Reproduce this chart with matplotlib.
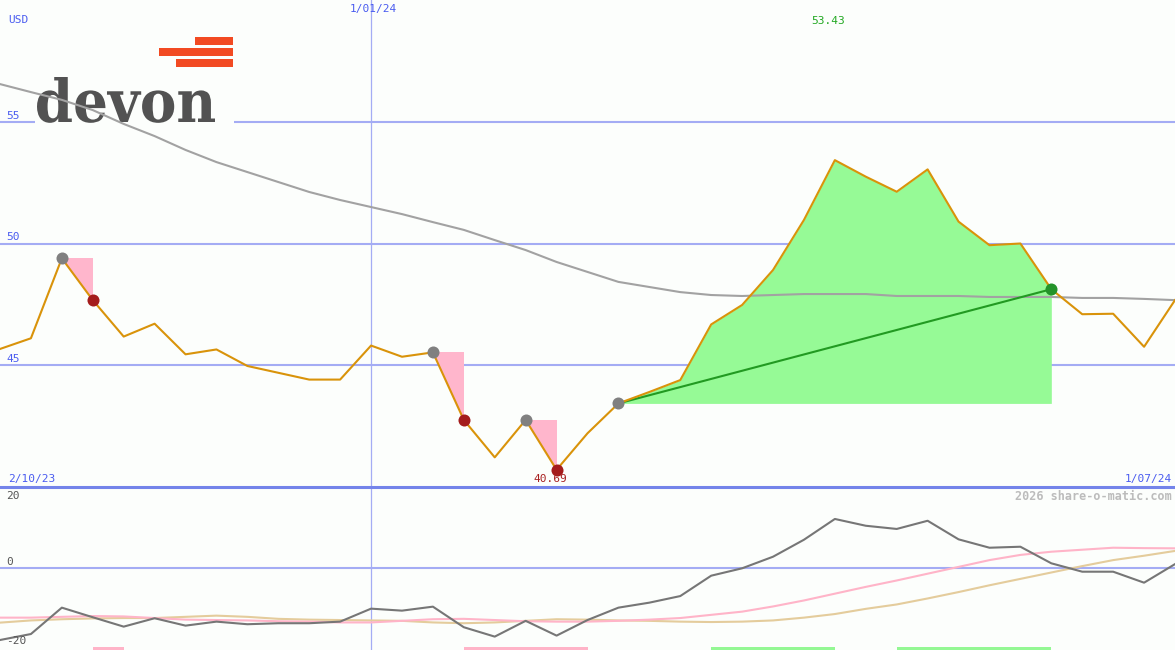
import numpy as np
import matplotlib
matplotlib.use("Agg")
import matplotlib.pyplot as plt
from matplotlib.patches import Rectangle, Polygon, PathPatch
from matplotlib.textpath import TextPath
from matplotlib.font_manager import FontProperties
from matplotlib.transforms import Affine2D, IdentityTransform

# weekly closes, 2/10/23 .. 1/07/24
price = [45.66, 46.10, 49.39, 47.67, 46.17, 46.70, 45.44, 45.64, 44.96, 44.68,
         44.40, 44.40, 45.80, 45.34, 45.52, 42.74, 41.20, 42.74, 40.69, 42.19,
         43.42, 43.89, 44.38, 46.67, 47.47, 48.91, 50.97, 53.43, 52.75, 52.13,
         53.05, 50.90, 49.93, 50.00, 48.12, 47.09, 47.11, 45.75, 47.67]
ma_long = [56.56, 56.23, 55.91, 55.49, 54.92, 54.42, 53.85, 53.35, 52.94, 52.53,
           52.12, 51.79, 51.50, 51.21, 50.88, 50.56, 50.14, 49.73, 49.24, 48.83,
           48.42, 48.21, 48.00, 47.88, 47.84, 47.88, 47.92, 47.92, 47.92, 47.84,
           47.84, 47.84, 47.80, 47.80, 47.80, 47.76, 47.76, 47.72, 47.67]
momentum = [-18.1, -16.6, -10.0, -12.4, -14.75, -12.65, -14.5, -13.5, -14.15, -13.9,
            -13.9, -13.5, -10.25, -10.75, -9.75, -14.9, -17.25, -13.3, -17.0, -13.1,
            -10.0, -8.75, -7.1, -2.0, -0.15, 2.75, 7.0, 12.2, 10.5, 9.7,
            11.75, 7.1, 5.0, 5.25, 1.1, -1.0, -1.0, -3.75, 0.9]
sig_pink = [-12.5, -12.5, -12.3, -12.1, -12.2, -12.6, -13.0, -13.1, -13.2, -13.4,
            -13.5, -13.7, -13.7, -13.3, -12.9, -12.8, -13.1, -13.4, -13.5, -13.5,
            -13.3, -13.0, -12.6, -11.8, -11.0, -9.7, -8.2, -6.5, -4.8, -3.2,
            -1.5, 0.2, 1.9, 3.2, 4.0, 4.5, 5.0, 4.9, 4.85]
sig_tan = [-13.75, -13.2, -12.9, -12.7, -12.6, -12.6, -12.3, -12.0, -12.3, -12.8,
           -13.0, -13.1, -13.2, -13.3, -13.7, -13.9, -13.7, -13.3, -12.9, -13.0,
           -13.2, -13.3, -13.5, -13.6, -13.5, -13.2, -12.5, -11.6, -10.3, -9.2,
           -7.7, -6.1, -4.4, -2.8, -1.2, 0.4, 1.9, 3.0, 4.2]

sell_start = [2, 14, 17]
sell_end = [3, 15, 18]
buy_start, buy_end = 20, 34
pink_bars = [(3, 4), (15, 19)]
green_bars = [(23, 27), (29, 34)]

first_date, mid_date, last_date = "2/10/23", "1/01/24", "1/07/24"
mid_idx = 12
price_ticks = [45, 50, 55]
ind_ticks = [20, 0, -20]

price = np.array(price)
x = np.arange(len(price))

W, H = 1175, 650
bg = "#fcfefc"
grid_c = "#a4acf4"
blue_txt = "#4a5cf0"
mono = "DejaVu Sans Mono"

fig = plt.figure(figsize=(W / 100, H / 100), dpi=100, facecolor=bg)
top_frac = (H - 487) / H
ax = fig.add_axes([0, top_frac, 1, 1 - top_frac])
ax2 = fig.add_axes([0, 0, 1, top_frac])
for a in (ax, ax2):
    a.set_facecolor(bg)
    a.set_axis_off()
    a.set_xlim(0, len(price) - 1)
    a.axvline(mid_idx, color=grid_c, lw=0.9, zorder=1)
ax.set_ylim(39.98, 60.02)
ax2.set_ylim(-20.6, 20.2)

def px(xp, yp):
    return xp / W, 1 - yp / H

# price panel grid
for t in price_ticks:
    ax.axhline(t, color=grid_c, lw=1.5, zorder=1)
    ax.annotate(str(t), (0, t), xytext=(6, 1), textcoords="offset pixels",
                color=blue_txt, fontsize=8, family=mono, va="bottom", zorder=6)

# logo
tf = fig.transFigure
ax.add_patch(Rectangle(px(35, 126), 199 / W, 94 / H, transform=tf,
                       facecolor=bg, edgecolor="none", zorder=1.5, clip_on=False))
for x0, y0, x1, y1 in [(195, 37, 233, 45), (159, 48, 233, 56), (176, 59, 233, 67)]:
    ax.add_patch(Rectangle(px(x0, y1), (x1 - x0) / W, (y1 - y0) / H, transform=tf,
                           facecolor="#f24a22", edgecolor="none", zorder=1.6, clip_on=False))
tp = TextPath((0, 0), "devon", size=50, prop=FontProperties(family="DejaVu Serif", weight="bold"))
ext = tp.get_extents()
sx = 178 / ext.width
sy = 45 / ext.y1
logo_tr = Affine2D().translate(-ext.x0, 0).scale(sx, sy).translate(37, H - 122)
ax.add_patch(PathPatch(logo_tr.transform_path(tp), transform=IdentityTransform(),
                       facecolor="#525252", edgecolor="none", zorder=1.6, clip_on=False))

# buy zone
seg = slice(buy_start, buy_end + 1)
ax.fill_between(x[seg], price[buy_start], price[seg], color="#96fa96", lw=0, zorder=2)

# sell triangles
for s, e in zip(sell_start, sell_end):
    ax.add_patch(Polygon([(s, price[s]), (e, price[s]), (e, price[e])],
                         closed=True, facecolor="#ffb6cc", edgecolor="none", zorder=2))

ax.plot(x, ma_long, color="#a2a2a2", lw=1.5, zorder=3)
ax.plot([buy_start, buy_end], [price[buy_start], price[buy_end]], color="#229a22", lw=1.5, zorder=3.5)
ax.plot(x, price, color="#d9930a", lw=1.5, zorder=4)

ax.scatter(sell_start + [buy_start], price[sell_start + [buy_start]], s=75, color="#808080", zorder=5, lw=0)
ax.scatter(sell_end, price[sell_end], s=75, color="#a41c1c", zorder=5, lw=0)
ax.scatter([buy_end], [price[buy_end]], s=75, color="#23932a", zorder=5, lw=0)

imin, imax = int(price.argmin()), int(price.argmax())
ax.annotate(f"{price[imin]:.2f}", (imin, price[imin]), xytext=(-6, -9), textcoords="offset pixels",
            ha="center", va="center", color="#a82020", fontsize=8, family=mono, zorder=6)
ax.text(*px(828, 21), f"{price[imax]:.2f}", transform=tf, ha="center", va="center",
        color="#22a822", fontsize=8, family=mono)

fig.text(*px(8, 20), "USD", ha="left", va="center", color=blue_txt, fontsize=8, family=mono)
fig.text(*px(373, 9), mid_date, ha="center", va="center", color=blue_txt, fontsize=8, family=mono)
fig.text(*px(8, 479), first_date, ha="left", va="center", color=blue_txt, fontsize=8, family=mono)
fig.text(*px(1172, 479), last_date, ha="right", va="center", color=blue_txt, fontsize=8, family=mono)

# indicator panel
ax2.axhline(20.2, color="#7484ea", lw=2.2, zorder=5, clip_on=False)
ax2.axhline(0, color=grid_c, lw=1.5, zorder=1)
ax2.plot(x, sig_tan, color="#e4cc9c", lw=1.5, zorder=2)
ax2.plot(x, sig_pink, color="#ffb4c8", lw=1.5, zorder=2)
ax2.plot(x, momentum, color="#767676", lw=1.5, zorder=3)
for s, e in pink_bars:
    ax2.axvspan(s, e, ymin=0, ymax=0.02, color="#ffb4c8", lw=0, zorder=4)
for s, e in green_bars:
    ax2.axvspan(s, e, ymin=0, ymax=0.02, color="#94f894", lw=0, zorder=4)
for t, yp in zip(ind_ticks, [496, 562, 641]):
    fig.text(*px(6, yp), str(t), ha="left", va="center", color="#555555", fontsize=8, family=mono)
fig.text(*px(1172, 496), "2026 share-o-matic.com", ha="right", va="center",
         color="#bcbcbc", fontsize=8.5, family=mono, fontweight="bold")

fig.savefig("out.png", dpi=100, facecolor=bg)
